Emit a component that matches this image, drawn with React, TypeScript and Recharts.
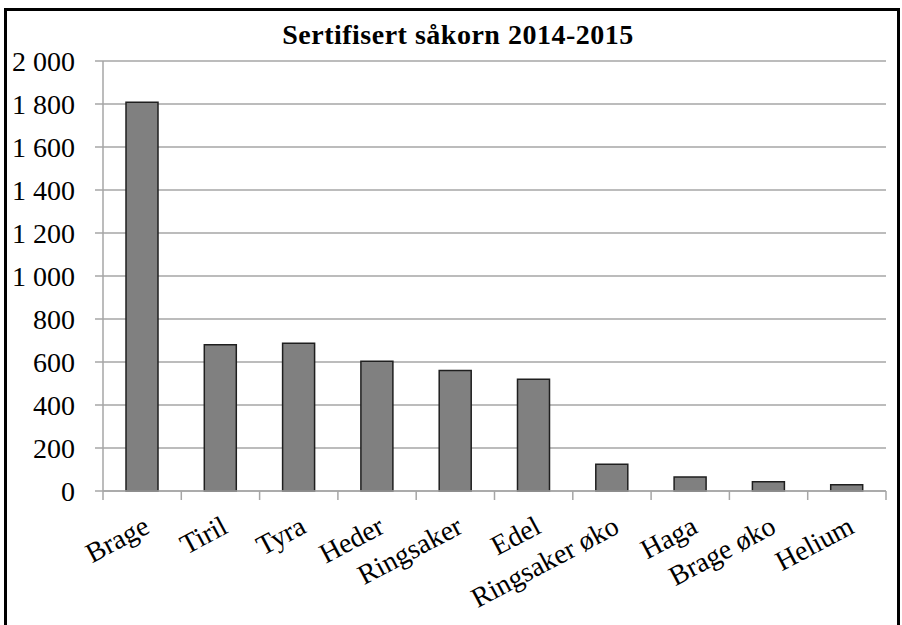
import React from "react";
import { Bar, BarChart, CartesianGrid, XAxis, YAxis } from "recharts";

// Sertifisert såkorn 2014-2015, per sort
const varieties = [
  "Brage",
  "Tiril",
  "Tyra",
  "Heder",
  "Ringsaker",
  "Edel",
  "Ringsaker øko",
  "Haga",
  "Brage øko",
  "Helium",
];
const amounts = [1808, 680, 687, 603, 561, 520, 125, 65, 43, 29];
const yTicks = [0, 200, 400, 600, 800, 1000, 1200, 1400, 1600, 1800, 2000];

const data = varieties.map((name, i) => ({ name, value: amounts[i] }));

const W = 902;
const H = 625;
const X_AXIS_H = 30;
const MARGIN = { top: 61, right: 16, bottom: 134 - X_AXIS_H, left: 0 };
const Y_AXIS_W = 103;
const FONT = '"Liberation Serif", "Times New Roman", serif';
const GRID = "#a6a6a6";

const plotW = W - MARGIN.left - MARGIN.right - Y_AXIS_W;
const halfBand = plotW / varieties.length / 2;

function formatTick(n: number) {
  if (n < 1000) return String(n);
  return `${Math.floor(n / 1000)} ${String(n % 1000).padStart(3, "0")}`;
}

function CategoryTick(props: any) {
  const { x, y, payload, index } = props;
  const last = index === varieties.length - 1;
  return (
    <g transform={`translate(${x},${y})`}>
      <line x1={-halfBand} x2={-halfBand} y1={0} y2={9} stroke={GRID} strokeWidth={1.5} />
      {last && (
        <line x1={halfBand} x2={halfBand} y1={0} y2={9} stroke={GRID} strokeWidth={1.5} />
      )}
      <text
        transform="translate(9,41) rotate(-28)"
        textAnchor="end"
        fontSize={28}
        fontFamily={FONT}
        fill="#000"
      >
        {payload.value}
      </text>
    </g>
  );
}

export default function App() {
  return (
    <div
      style={{
        position: "absolute",
        left: 0,
        top: 0,
        width: W,
        height: H,
        overflow: "hidden",
        background: "#fff",
      }}
    >
      <div
        style={{
          position: "absolute",
          left: 4,
          top: 8,
          width: 890,
          height: 650,
          border: "3px solid #000",
        }}
      />
      <div style={{ position: "absolute", left: 0, top: 0 }}>
        <BarChart width={W} height={H} data={data} margin={MARGIN}>
          <CartesianGrid vertical={false} stroke={GRID} strokeWidth={1.5} />
          <XAxis
            dataKey="name"
            height={X_AXIS_H}
            interval={0}
            tickSize={0}
            tickMargin={0}
            tickLine={false}
            axisLine={{ stroke: GRID, strokeWidth: 1.5 }}
            tick={<CategoryTick />}
          />
          <YAxis
            width={Y_AXIS_W}
            domain={[0, 2000]}
            ticks={yTicks}
            interval={0}
            tickSize={8}
            tickMargin={20}
            tickFormatter={formatTick}
            tickLine={{ stroke: GRID, strokeWidth: 1.5 }}
            axisLine={{ stroke: GRID, strokeWidth: 1.5 }}
            tick={{ fontSize: 28, fontFamily: FONT, fill: "#000" }}
          />
          <Bar
            dataKey="value"
            barSize={32}
            fill="#808080"
            stroke="#1f1f1f"
            strokeWidth={1.5}
            isAnimationActive={false}
          />
        </BarChart>
      </div>
      <svg
        width={W}
        height={60}
        style={{ position: "absolute", left: 0, top: 0, pointerEvents: "none" }}
      >
        <text
          x={458}
          y={44}
          textAnchor="middle"
          fontSize={28}
          fontWeight="bold"
          fontFamily={FONT}
          letterSpacing={0.5}
          fill="#000"
        >
          Sertifisert såkorn 2014-2015
        </text>
      </svg>
    </div>
  );
}
